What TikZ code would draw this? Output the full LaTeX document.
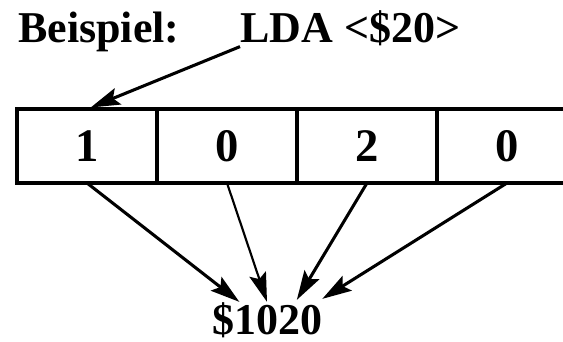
\documentclass[tikz,border=0pt]{standalone}
\usepackage{fontspec}
\setmainfont{Liberation Serif}
\usepackage{tikz}
\usetikzlibrary{arrows.meta, positioning, calc}

\begin{document}
\begin{tikzpicture}[x=0.75pt, y=-0.75pt,
    bigtext/.style={font=\fontsize{33}{36}\selectfont\bfseries, inner sep=0pt},
    cell/.style={draw, line width=2.4pt, minimum width=105pt, minimum height=55.5pt,
        inner sep=0pt, outer sep=0pt, font=\fontsize{35}{38}\selectfont\bfseries},
    pointer/.style={line width=2.3pt, -{Stealth[length=22pt, width=13pt, inset=4pt]}}]
    % Frame
    \clip (0,0) rectangle (563,342);
    
    % Title
    \node[bigtext, anchor=base west] (title) at (18,43) {Beispiel:};
    \node[bigtext, anchor=base west] (lda) at (240,43) {LDA <\$20>};
    
    % Memory cells
    \node[cell] (c1) at (87,146) {1};
    \node[cell, right=0pt of c1] (c2) {0};
    \node[cell, right=0pt of c2] (c3) {2};
    \node[cell, right=0pt of c3] (c4) {0};
    
    % Resulting address
    \node[bigtext, anchor=base] (addr) at (267,334) {\$1020};
    
    % Pointer from the operand
    \draw[pointer, shorten >=3pt] (lda.south west) -- (c1.north);
    
    % Bytes into the address
    \draw[pointer] (c1.south) -- ($(addr.north west)!0.25!(addr.north east)$);
    \draw[pointer, line width=1.6pt] (c2.south) -- ($(addr.north west)!0.5!(addr.north east)$);
    \draw[pointer] (c3.south) -- ($(addr.north west)!0.77!(addr.north east)+(0,-2)$);
    \draw[pointer] (c4.south) -- ($(addr.north east)+(0,-3)$);
\end{tikzpicture}
\end{document}
